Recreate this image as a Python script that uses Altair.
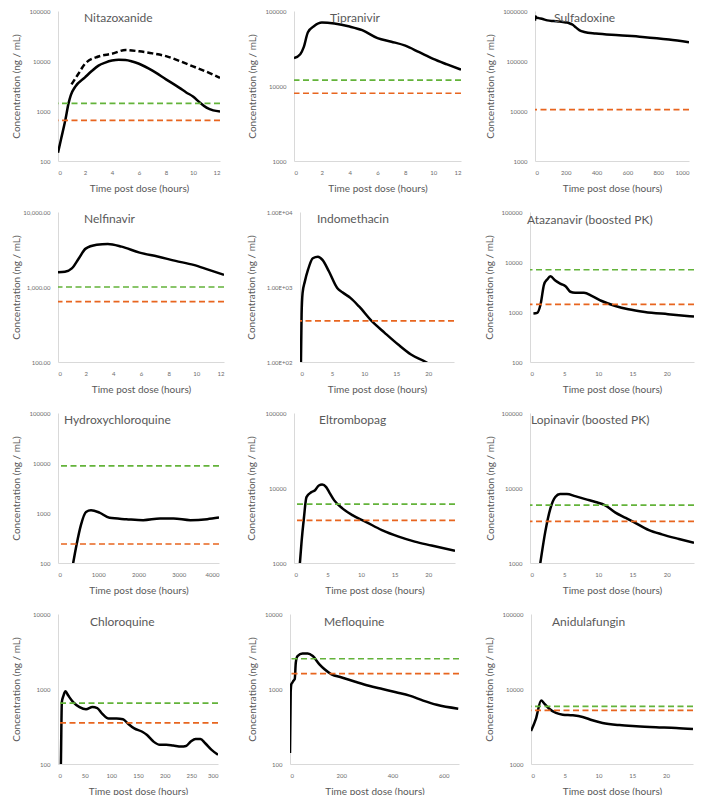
import altair as alt
import pandas as pd

FONT = "Lato"
GREEN = "#63B33A"
ORANGE = "#E8651F"
TEXT = "#595959"
LABEL = "#6b6b6b"
AXISLINE = "#d9d9d9"

# ---------------- data ----------------
NITA_T = [0, 0.22, 0.54, 0.78, 0.95, 1.27, 2.0, 2.5, 3.0, 3.5, 4.0, 4.5, 5.0, 5.5, 6.0, 7.0, 8.0, 9.0, 9.5, 10.0, 10.5, 11.0, 11.5, 12.0]
NITA_C = [146, 270, 650, 1420, 2080, 3040, 4700, 6300, 8100, 9300, 10200, 10600, 10500, 9800, 8800, 6400, 4300, 2900, 2350, 1950, 1480, 1170, 1030, 980]
NITA_T2 = [1.0, 1.5, 2.0, 3.0, 4.0, 5.0, 6.0, 7.0, 8.0, 9.0, 10.0, 11.0, 12.0]
NITA_C2 = [3400, 5500, 8800, 12300, 14000, 16600, 15600, 14200, 12500, 10000, 7800, 6100, 4600]
NITA_LEVELS = (1425, 650)

TIPR_T = [0, 0.45, 0.7, 1.0, 1.45, 2.0, 2.9, 4.0, 4.9, 6.0, 7.0, 8.0, 9.0, 10.0, 11.0, 12.0]
TIPR_C = [23500, 26500, 33000, 52000, 63000, 70000, 68000, 62000, 55500, 43500, 39000, 34500, 28200, 23000, 19400, 16500]
TIPR_LEVELS = (12000, 8000)

SULF_T = [0, 4, 10, 25, 50, 80, 120, 160, 200, 222, 245, 265, 290, 320, 395, 546, 698, 870, 1000]
SULF_C = [640000, 780000, 740000, 720000, 690000, 650000, 630000, 615000, 590000, 570000, 530000, 470000, 410000, 380000, 353000, 327000, 303000, 269000, 238000]
SULF_LEVELS = (None, 10700)

NELF_T = [0, 0.5, 1.0, 1.5, 2.0, 2.8, 3.6, 4.6, 5.9, 7.2, 8.5, 9.8, 10.8, 12.0]
NELF_C = [1570, 1600, 1770, 2400, 3250, 3650, 3750, 3450, 2870, 2550, 2230, 1970, 1720, 1450]
NELF_LEVELS = (1000, 640)

INDO_T = [0.1, 0.15, 0.25, 0.4, 0.75, 1.25, 2.0, 2.8, 3.5, 4.5, 5.8, 6.6, 7.9, 9.2, 11.2, 13.2, 15.3, 17.3, 19.6, 20.5]
INDO_C = [60, 100, 430, 830, 1180, 1700, 2420, 2530, 2300, 1620, 970, 850, 710, 550, 350, 245, 171, 126, 100, 90]
INDO_LEVELS = (None, 353)

ATAZ_T = [0.5, 1.05, 1.55, 2.05, 2.5, 3.0, 3.7, 4.5, 5.2, 5.9, 6.6, 7.9, 9.1, 10.5, 12.5, 14.4, 16.8, 20.2, 24]
ATAZ_C = [930, 960, 1430, 3540, 4450, 5180, 4250, 3650, 3280, 2540, 2420, 2420, 2080, 1660, 1320, 1135, 1005, 904, 810]
ATAZ_LEVELS = (7000, 1420)

HCQ_T = [330, 377, 460, 569, 695, 820, 1030, 1280, 1700, 2117, 2536, 2870, 3289, 3707, 4000]
HCQ_C = [60, 100, 230, 573, 1050, 1135, 1020, 800, 753, 719, 776, 776, 719, 753, 812]
HCQ_LEVELS = (8800, 240)

ELTR_T = [0.7, 0.88, 1.13, 1.47, 1.86, 2.6, 3.1, 3.7, 4.2, 4.8, 5.3, 6.0, 7.25, 8.7, 10.7, 13.1, 15.6, 18.0, 20.5, 24]
ELTR_C = [600, 1000, 1930, 3920, 7570, 8810, 9270, 10800, 11100, 10260, 8630, 6840, 5310, 4340, 3540, 2750, 2250, 1930, 1710, 1450]
ELTR_LEVELS = (6100, 3700)

LOPI_T = [1.2, 1.51, 2.24, 2.98, 3.7, 4.4, 5.4, 6.6, 8.1, 9.6, 11.0, 12.5, 14.0, 15.0, 17.4, 19.3, 21.8, 24]
LOPI_C = [650, 1000, 2620, 5310, 7570, 8300, 8300, 7800, 7100, 6500, 5880, 4700, 4000, 3600, 2750, 2410, 2090, 1860]
LOPI_LEVELS = (5900, 3600)

CHLO_T = [4, 5.4, 7.2, 10.3, 13.9, 19.3, 28.4, 40.4, 52.5, 64.6, 73.6, 82.7, 94.8, 109.8, 121.9, 131, 143, 158, 167, 179, 191, 203, 216, 231, 240, 249, 258, 267, 276, 288, 300]
CHLO_C = [50, 100, 668, 817, 931, 817, 668, 574, 535, 574, 557, 469, 403, 403, 395, 346, 298, 269, 243, 199, 180, 180, 176, 171, 174, 199, 215, 215, 189, 154, 133]
CHLO_LEVELS = (650, 353)

MEFL_T = [0, 2.7, 5.3, 9.3, 13.3, 18.6, 22.6, 29.2, 49, 69, 89, 115, 135, 162, 202, 255, 308, 361, 414, 467, 520, 573, 657]
MEFL_C = [140, 904, 1160, 1220, 1290, 1355, 2240, 2750, 2980, 2980, 2750, 2130, 1830, 1570, 1425, 1250, 1105, 1000, 905, 817, 700, 615, 546]
MEFL_LEVELS = (2530, 1600)

ANID_T = [0, 0.74, 1.5, 2.0, 2.7, 3.7, 4.7, 6.2, 7.65, 9.1, 10.6, 13.1, 15.6, 18.5, 21.5, 24]
ANID_C = [2745, 4030, 7020, 6350, 5460, 4790, 4550, 4460, 4240, 3830, 3530, 3300, 3190, 3100, 3030, 2920]
ANID_LEVELS = (5850, 5200)

H = 150


def panel(name, t, c, levels, xdom, xticks, ydom, yticks, width, ext, tdx, tdy,
          t2=None, c2=None, yfmt="d", ylabelexpr=None):
    df = pd.DataFrame({"t": t, "c": c})
    yax = dict(values=yticks, title="Concentration (ng / mL)", minExtent=ext, maxExtent=ext,
               labelOverlap=False)
    if ylabelexpr:
        yax["labelExpr"] = ylabelexpr
    else:
        yax["format"] = yfmt
    x = alt.X("t:Q", scale=alt.Scale(domain=xdom, nice=False, zero=False),
              axis=alt.Axis(values=xticks, format="d", title="Time post dose (hours)", labelOverlap=False))
    y = alt.Y("c:Q", scale=alt.Scale(type="log", domain=ydom, nice=False), axis=alt.Axis(**yax))
    layers = [alt.Chart(df).mark_line(color="black", strokeWidth=2.5, interpolate="monotone", clip=True)
              .encode(x=x, y=y)]
    if t2 is not None:
        layers.append(alt.Chart(pd.DataFrame({"t": t2, "c": c2}))
                      .mark_line(color="black", strokeWidth=2.5, strokeDash=[6, 3], interpolate="monotone", clip=True)
                      .encode(x=x, y=y))
    green, orange = levels
    for lvl, col in ((green, GREEN), (orange, ORANGE)):
        if lvl is not None:
            layers.append(alt.Chart(pd.DataFrame({"c": [lvl]}))
                          .mark_rule(color=col, strokeDash=[6, 3.5], strokeWidth=1.7)
                          .encode(y=y))
    layers.append(alt.Chart(pd.DataFrame({"name": [name]}))
                  .mark_text(align="left", baseline="middle", font=FONT, fontSize=12, color=TEXT)
                  .encode(x=alt.value(tdx), y=alt.value(tdy), text="name:N"))
    return alt.layer(*layers).properties(width=width, height=H)


X12 = [0, 2, 4, 6, 8, 10, 12]
X24 = [0, 5, 10, 15, 20]

p1 = panel("Nitazoxanide", NITA_T, NITA_C, NITA_LEVELS, [0, 12], X12, [100, 100000],
           [100, 1000, 10000, 100000], 162, 34, 26, 7, t2=NITA_T2, c2=NITA_C2)
p2 = panel("Tipranivir", TIPR_T, TIPR_C, TIPR_LEVELS, [0, 12], X12, [1000, 100000],
           [1000, 10000, 100000], 167, 34, 36, 7)
p3 = panel("Sulfadoxine", SULF_T, SULF_C, SULF_LEVELS, [0, 1000], [0, 200, 400, 600, 800, 1000],
           [1000, 1000000], [1000, 10000, 100000, 1000000], 154, 37, 19, 7)

p4 = panel("Nelfinavir", NELF_T, NELF_C, NELF_LEVELS, [0, 12], X12, [100, 10000],
           [100, 1000, 10000], 166, 34, 26, 7, yfmt=",.2f")
p5 = panel("Indomethacin", INDO_T, INDO_C, INDO_LEVELS, [0, 24], [0, 5, 10, 15, 20], [100, 10000],
           [100, 1000, 10000], 154, 41, 17, 7,
           ylabelexpr="'1.00E+0' + round(log(datum.value) / LN10)")
p6 = panel("Atazanavir (boosted PK)", ATAZ_T, ATAZ_C, ATAZ_LEVELS, [0, 24], X24, [100, 100000],
           [100, 1000, 10000, 100000], 164, 33, -3, 8)

p7 = panel("Hydroxychloroquine", HCQ_T, HCQ_C, HCQ_LEVELS, [0, 4000], [0, 1000, 2000, 3000, 4000],
           [100, 100000], [100, 1000, 10000, 100000], 161, 34, 6, 7)
p8 = panel("Eltrombopag", ELTR_T, ELTR_C, ELTR_LEVELS, [0, 24], X24, [1000, 100000],
           [1000, 10000, 100000], 161, 35, 25, 7)
p9 = panel("Lopinavir (boosted PK)", LOPI_T, LOPI_C, LOPI_LEVELS, [0, 24], X24, [1000, 100000],
           [1000, 10000, 100000], 164, 32, 1, 7)

p10 = panel("Chloroquine", CHLO_T, CHLO_C, CHLO_LEVELS, [0, 300], [0, 50, 100, 150, 200, 250, 300],
            [100, 10000], [100, 1000, 10000], 160, 34, 32, 8)
p11 = panel("Mefloquine", MEFL_T, MEFL_C, MEFL_LEVELS, [0, 660], [0, 200, 400, 600],
            [100, 10000], [100, 1000, 10000], 169, 30, 34, 8)
p12 = panel("Anidulafungin", ANID_T, ANID_C, ANID_LEVELS, [0, 24], X24, [1000, 100000],
            [1000, 10000, 100000], 162, 34, 21, 8)

row1 = alt.hconcat(p1, p2, p3, spacing=74, bounds="flush")
row2 = alt.hconcat(p4, p5, p6, spacing=76, bounds="flush")
row3 = alt.hconcat(p7, p8, p9, spacing=75, bounds="flush")
row4 = alt.hconcat(p10, p11, p12, spacing=72, bounds="flush")

chart = (
    alt.vconcat(row1, row2, row3, row4, spacing=16)
    .properties(padding={"left": 3, "top": 0, "right": 2, "bottom": 0})
    .configure_view(stroke=None)
    .configure_axis(grid=False, ticks=False, tickSize=0, domainColor=AXISLINE, domainWidth=1,
                    labelColor=LABEL, titleColor=TEXT, labelFont=FONT, titleFont=FONT,
                    labelFontSize=6, titleFontSize=10, titleFontWeight="normal")
    .configure_axisX(labelPadding=8, titlePadding=8)
    .configure_axisY(labelPadding=8, titlePadding=3)
)

chart.save("out.html", embed_options={"renderer": "svg", "actions": False})
